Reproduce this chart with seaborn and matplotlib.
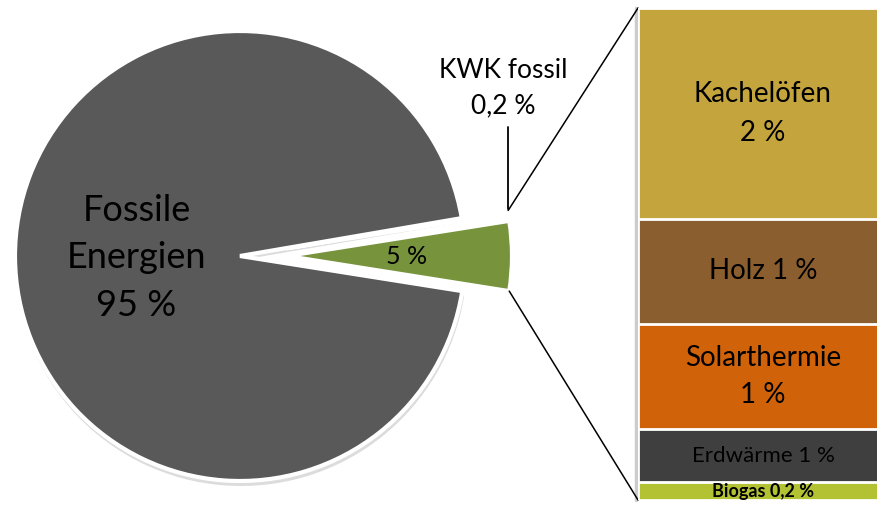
import numpy as np
import pandas as pd
import matplotlib
matplotlib.use("Agg")
import matplotlib.pyplot as plt
import seaborn as sns

# ---------------- data ----------------
pie_categories = ["Erneuerbare", "KWK fossil", "Fossile Energien"]
pie_values = [5.0, 0.2, 95.0]
pie_texts = ["5 %", "KWK fossil\n0,2 %", "Fossile\nEnergien\n95 %"]
pie_colors = ["#77933C", "#D9D9D9", "#595959"]

bar_categories = ["Kachelöfen", "Holz", "Solarthermie", "Erdwärme", "Biogas"]
bar_values = [2.0, 1.0, 1.0, 0.5, 0.17]
bar_texts = ["Kachelöfen\n2 %", "Holz 1 %", "Solarthermie\n1 %", "Erdwärme 1 %", "Biogas 0,2 %"]
bar_colors = ["#C4A43C", "#8B5E2F", "#D0620A", "#3F3F3F", "#B3C233"]

# ---------------- style ----------------
W, H = 877, 508
sns.set_theme(style="white")
plt.rcParams["font.family"] = ["Lato", "DejaVu Sans"]

fig = plt.figure(figsize=(W / 100, H / 100), dpi=100)
ax = fig.add_axes([0, 0, 1, 1])

cx, cy, R = 240, H - 256, 225
explode_px = 47
share = np.array(pie_values) / sum(pie_values)
start = -180 * share[0]
explode = [explode_px, explode_px, 0]   # data units (pixels)

# soft shadow of the main slice
ax.pie(pie_values, colors=["none", "none", "#dcdcdc"], startangle=start,
       center=(cx + 1, cy - 4), radius=R + 1, explode=explode,
       wedgeprops=dict(linewidth=0))
wedges, _ = ax.pie(pie_values, colors=pie_colors, startangle=start,
                   center=(cx, cy), radius=R, explode=explode,
                   wedgeprops=dict(edgecolor="white", linewidth=3))
ax.set_xlim(0, W)
ax.set_ylim(0, H)
ax.axis("off")

# geometry of exploded wedges
def wedge_point(i, ang_deg, rfrac=1.0):
    mid = np.deg2rad(start + 360 * (share[:i].sum() + share[i] / 2))
    ox = cx + explode[i] * np.cos(mid)
    oy = cy + explode[i] * np.sin(mid)
    a = np.deg2rad(ang_deg)
    return ox + rfrac * R * np.cos(a), oy + rfrac * R * np.sin(a)

# labels on pie
gx, gy = wedge_point(0, 0, 0.53)
ax.text(gx, gy, pie_texts[0], ha="center", va="center", fontsize=18, color="black")
fx, fy = cx - 0.46 * R, cy - 2
ax.text(fx, fy, pie_texts[2], ha="center", va="center", fontsize=26,
        color="black", linespacing=1.55)

# KWK leader line and label
kwk_ang = start + 360 * (share[0] + share[1] / 2)
kx, ky = wedge_point(1, kwk_ang)
ax.plot([kx, kx], [ky + 3, ky + 85], color="black", lw=1.3)
ax.text(kx - 5, ky + 124, pie_texts[1], ha="center", va="center", fontsize=19,
        color="black", linespacing=1.5)

# ---------------- bar of pie ----------------
bx0, by0, bw, bh = 638, 8, 250, 492
ax2 = fig.add_axes([bx0 / W, by0 / H, bw / W, bh / H])
cum = np.cumsum(bar_values[::-1])[::-1]
df = pd.DataFrame({"grp": ["b"] * len(bar_categories), "cat": bar_categories, "cum": cum})
sns.barplot(data=df, x="grp", y="cum", hue="cat", hue_order=bar_categories,
            palette=bar_colors, dodge=False, saturation=1, width=1,
            edgecolor="white", linewidth=2, legend=False, ax=ax2)
total = cum[0]
ax2.set_xlim(-0.5, 0.5)
ax2.set_ylim(0, total)
ax2.axis("off")
sizes = [20, 20, 20, 16, 13]
weights = ["normal", "normal", "normal", "normal", "bold"]
spacing = [1.6, 1.3, 1.5, 1.3, 1.3]
for i, (t, c, v) in enumerate(zip(bar_texts, cum, bar_values)):
    ax2.text(0, c - v / 2, t, ha="center", va="center", fontsize=sizes[i],
             fontweight=weights[i], color="black", linespacing=spacing[i])

# shadow along left edge of bar
ax.plot([bx0 - 2, bx0 - 2], [H - by0 - bh, H - by0], color="#cccccc", lw=2.5, zorder=0)

# connector lines
a_top = start + 360 * (share[0] + share[1])
tx, ty = wedge_point(1, a_top)
lx, ly = wedge_point(0, start)
ax.plot([tx, bx0], [ty, H - by0], color="black", lw=1.1)
ax.plot([lx, bx0], [ly, H - by0 - bh], color="black", lw=1.1)

fig.savefig("out.png", dpi=100)
